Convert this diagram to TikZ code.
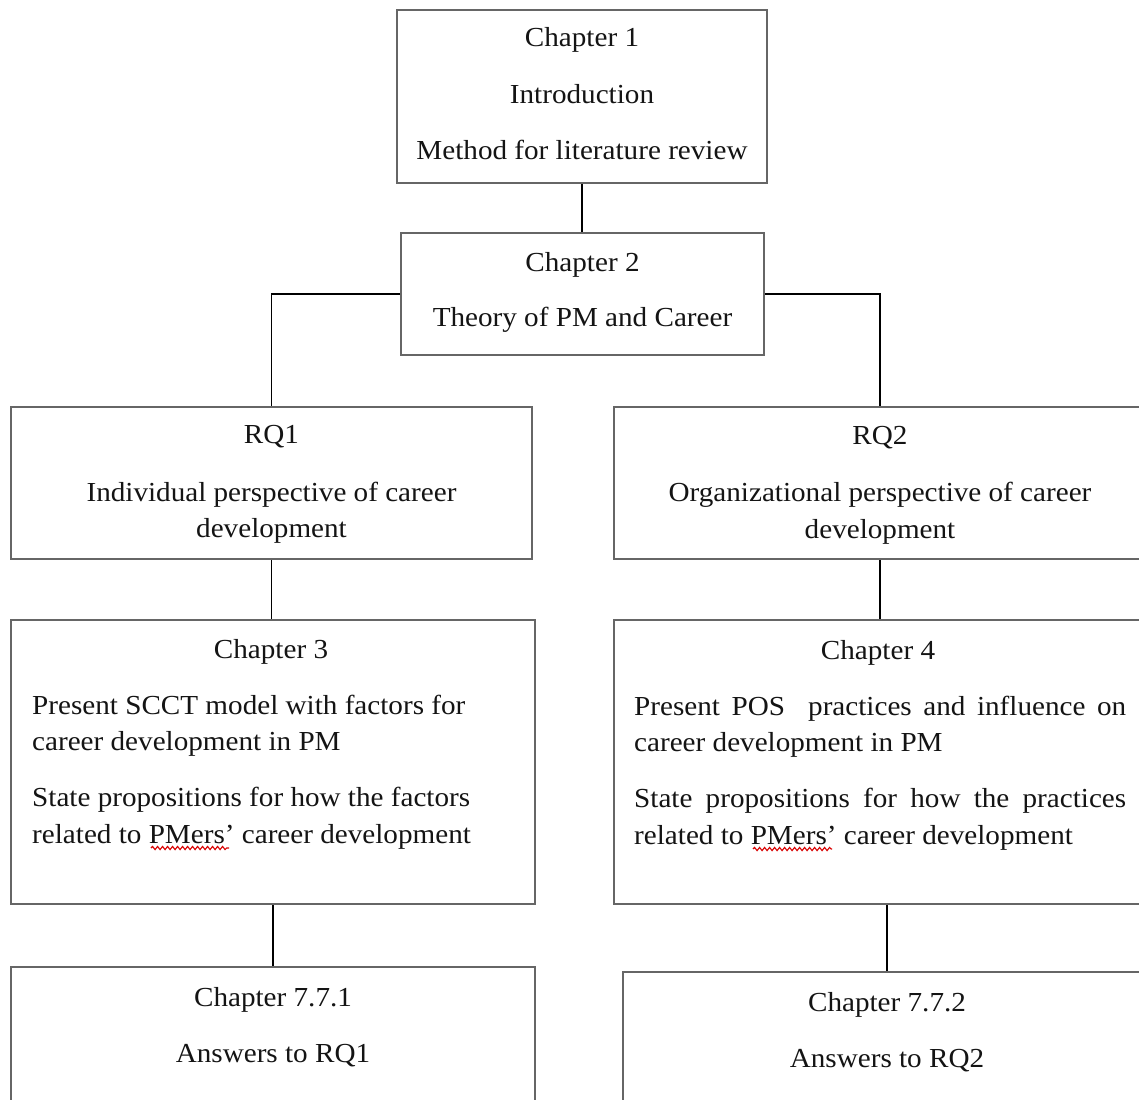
\documentclass[tikz,border=0pt]{standalone}
\usepackage{fontspec}
\setmainfont{Liberation Serif}[FakeStretch=1.06]
\usetikzlibrary{decorations.pathmorphing}
\newcommand{\firstst}{\rule{0pt}{20pt}}
\tikzset{
  box/.style={draw=black!60, line width=2pt, inner sep=0pt, rectangle},
  txt/.style={inner sep=0pt, font=\fontsize{27.5}{36.5}\selectfont, text=black!92},
  conn/.style={draw=black, line width=1.3pt},
  spell/.style={draw=red!85!black, line width=1.1pt, decorate, decoration={snake, amplitude=1.6pt, segment length=5pt}}
}
\begin{document}
\begin{tikzpicture}[x=1pt,y=-1pt]
\useasboundingbox (0,0) rectangle (1139,1099);
\clip (0,0) rectangle (1139,1099);
\fill[white] (0,0) rectangle (1139,1099);

% boxes
\node[box, minimum width=370pt, minimum height=173pt] (c1) at (582,96.5) {};
\node[box, minimum width=363pt, minimum height=122pt] (c2) at (582.5,294) {};
\node[box, minimum width=521pt, minimum height=152pt] (rq1) at (271.5,483) {};
\node[box, minimum width=532pt, minimum height=152pt] (rq2) at (880,483) {};
\node[box, minimum width=524pt, minimum height=284pt] (ch3) at (273,762) {};
\node[box, minimum width=532pt, minimum height=284pt] (ch4) at (880,762) {};
\node[box, minimum width=524pt, minimum height=143pt] (a1) at (273,1038.5) {};
\node[box, minimum width=528pt, minimum height=138pt] (a2) at (887,1041) {};

% texts
\node[txt, anchor=north, align=center] (t1) at (582,26.5)
  {\firstst Chapter 1\\[20pt]Introduction\\[20pt]Method for literature review};
\node[txt, anchor=north, align=center] (t2) at (582.5,251.5)
  {\firstst Chapter 2\\[18.5pt]Theory of PM and Career};
\node[txt, anchor=north, align=center] (trq1) at (271.5,423.5)
  {\firstst RQ1\\[21pt]Individual perspective of career\\development};
\node[txt, anchor=north, align=center] (trq2) at (880,424.5)
  {\firstst RQ2\\[20.5pt]Organizational perspective of career\\development};
\node[txt, anchor=north] (t3h) at (271,638) {\firstst Chapter 3};
\node[txt, anchor=north west, align=left] (t3b) at (32,694)
  {\firstst Present SCCT model with factors for\\career development in PM\\[19.5pt]State propositions for how the factors\\related to PMers’ career development};
\node[txt, anchor=north] (t4h) at (878,639) {\firstst Chapter 4};
\node[txt, anchor=north west, align=left] (t4b) at (634,695)
  {\firstst\makebox[492pt][s]{Present POS\ \ practices and influence on}\\career development in PM\\[19.5pt]\makebox[492pt][s]{State propositions for how the practices}\\related to PMers’ career development};
\node[txt, anchor=north, align=center] (t5) at (273,986.5)
  {\firstst Chapter 7.7.1\\[19.5pt]Answers to RQ1};
\node[txt, anchor=north, align=center] (t6) at (887,991.5)
  {\firstst Chapter 7.7.2\\[19.5pt]Answers to RQ2};

% spell-check underlines
\draw[spell] (151,848) -- (229,848);
\draw[spell] (753,849) -- (832,849);

% connectors
\draw[conn] (c1.south) -- (c1.south |- c2.north);
\draw[conn] (c2.west) -| (rq1.north);
\draw[conn] (c2.east) -| (rq2.north);
\draw[conn] (rq1.south) -- (rq1.south |- ch3.north);
\draw[conn] (rq2.south) -- (rq2.south |- ch4.north);
\draw[conn] (ch3.south) -- (ch3.south |- a1.north);
\draw[conn] (a2.north |- ch4.south) -- (a2.north);
\end{tikzpicture}
\end{document}
